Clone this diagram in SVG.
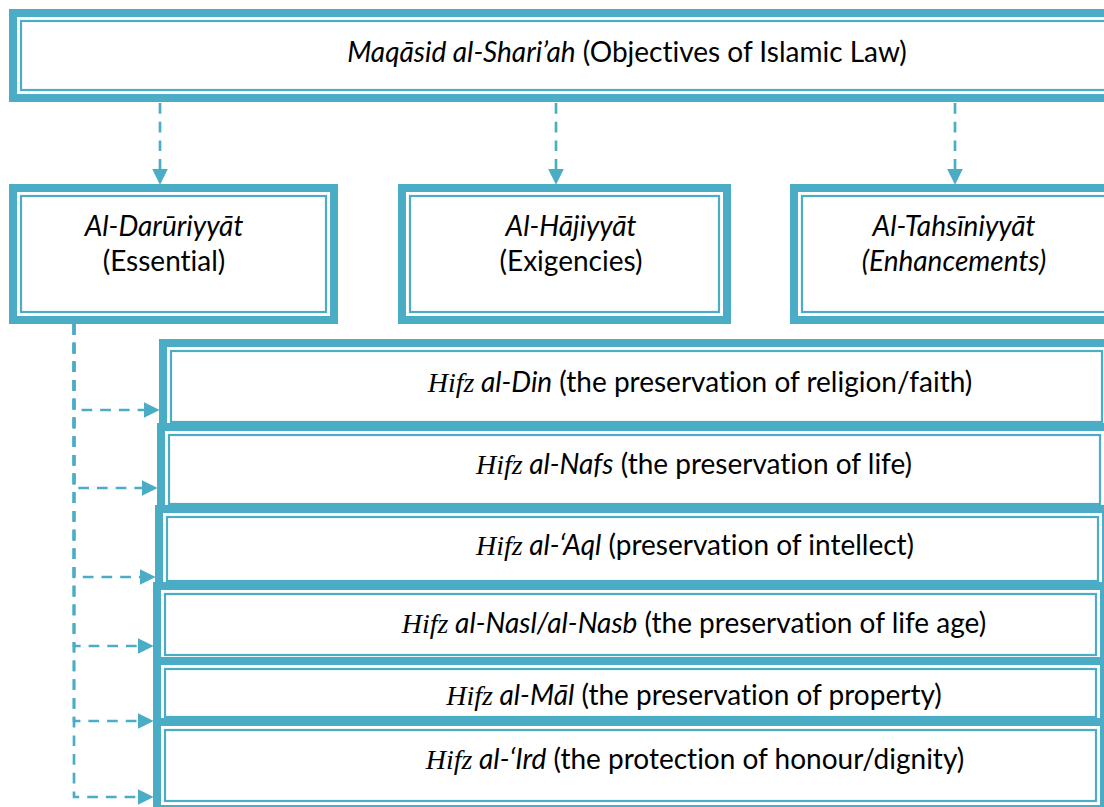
<svg xmlns="http://www.w3.org/2000/svg" width="1104" height="807" viewBox="0 0 1104 807">
  <defs>
    <style>
      .outer { fill: #4BACC6; }
      .gap { fill: #FFFFFF; }
      .thin { fill: #FFFFFF; stroke: #4BACC6; stroke-width: 2.2; }
      .conn { fill: none; stroke: #4BACC6; stroke-width: 2.67; stroke-dasharray: 10.7 8; }
      text { font-family: "Lato", "Liberation Sans", sans-serif; font-size: 28px; fill: #000000; font-variant-ligatures: none; font-feature-settings: "liga" 0, "dlig" 0; }
      .it { font-style: italic; }
      .hz { font-family: "Liberation Serif", "Times New Roman", serif; font-style: italic; font-size: 28px; }
    </style>
    <marker id="arrow" markerUnits="userSpaceOnUse" markerWidth="16" markerHeight="16" viewBox="0 0 15 15" refX="5" refY="7.5" orient="auto">
      <path d="M0,0 L15,7.5 L0,15 Z" fill="#4BACC6"/>
    </marker>
  </defs>
  <rect width="1104" height="807" fill="#FFFFFF"/>

  <g id="connectors">
    <path class="conn" d="M160,103 V174" marker-end="url(#arrow)"/>
    <path class="conn" d="M556,103 V174" marker-end="url(#arrow)"/>
    <path class="conn" d="M955,103 V174" marker-end="url(#arrow)"/>
    <path class="conn" d="M74,324 V410 H149" marker-end="url(#arrow)"/>
    <path class="conn" d="M74,324 V488 H147" marker-end="url(#arrow)"/>
    <path class="conn" d="M74,324 V577 H145" marker-end="url(#arrow)"/>
    <path class="conn" d="M74,324 V646 H143" marker-end="url(#arrow)"/>
    <path class="conn" d="M74,324 V721 H143" marker-end="url(#arrow)"/>
    <path class="conn" d="M74,324 V797 H143" marker-end="url(#arrow)"/>
  </g>

  <g id="maqasid">
    <rect class="outer" x="9" y="9" width="1130" height="93"/>
    <rect class="gap" x="17" y="17" width="1114" height="77"/>
    <rect class="thin" x="21" y="21" width="1106" height="69"/>
    <text x="627" y="62" text-anchor="middle"><tspan class="it">Maqāsid al-Shari’ah</tspan> (Objectives of Islamic Law)</text>
  </g>

  <g id="daruriyyat">
    <rect class="outer" x="9" y="184" width="329" height="140"/>
    <rect class="gap" x="17" y="192" width="313" height="124"/>
    <rect class="thin" x="21" y="196" width="305" height="116"/>
    <text x="164" y="236" text-anchor="middle" class="it">Al-Darūriyyāt</text>
    <text x="164" y="271" text-anchor="middle">(Essential)</text>
  </g>

  <g id="hajiyyat">
    <rect class="outer" x="398" y="184" width="333" height="140"/>
    <rect class="gap" x="406" y="192" width="317" height="124"/>
    <rect class="thin" x="410" y="196" width="309" height="116"/>
    <text x="571" y="236" text-anchor="middle" class="it">Al-Hājiyyāt</text>
    <text x="571" y="271" text-anchor="middle">(Exigencies)</text>
  </g>

  <g id="tahsiniyyat">
    <rect class="outer" x="790" y="184" width="340" height="140"/>
    <rect class="gap" x="798" y="192" width="324" height="124"/>
    <rect class="thin" x="802" y="196" width="316" height="116"/>
    <text x="954" y="236" text-anchor="middle" class="it">Al-Tahsīniyyāt</text>
    <text x="954" y="271" text-anchor="middle" class="it">(Enhancements)</text>
  </g>

  <g id="hifz-din">
    <rect class="outer" x="159" y="339" width="955" height="95"/>
    <rect class="gap" x="167" y="347" width="939" height="79"/>
    <rect class="thin" x="171" y="351" width="931" height="71"/>
    <text x="700" y="392" text-anchor="middle"><tspan class="hz">Hifz</tspan><tspan class="it"> al-Din</tspan> (the preservation of religion/faith)</text>
  </g>

  <g id="hifz-nafs">
    <rect class="outer" x="157" y="423" width="955" height="93"/>
    <rect class="gap" x="165" y="431" width="939" height="77"/>
    <rect class="thin" x="169" y="435" width="931" height="69"/>
    <text x="694" y="474" text-anchor="middle"><tspan class="hz">Hifz</tspan><tspan class="it"> al-Nafs</tspan> (the preservation of life)</text>
  </g>

  <g id="hifz-aql">
    <rect class="outer" x="155" y="505" width="955" height="88"/>
    <rect class="gap" x="163" y="513" width="939" height="72"/>
    <rect class="thin" x="167" y="517" width="931" height="64"/>
    <text x="695" y="555" text-anchor="middle"><tspan class="hz">Hifz</tspan><tspan class="it"> al-‘Aql</tspan> (preservation of intellect)</text>
  </g>

  <g id="hifz-nasl">
    <rect class="outer" x="153" y="582" width="955" height="85"/>
    <rect class="gap" x="161" y="590" width="939" height="69"/>
    <rect class="thin" x="165" y="594" width="931" height="61"/>
    <text x="694" y="633" text-anchor="middle"><tspan class="hz">Hifz</tspan><tspan class="it"> al-Nasl/al-Nasb</tspan> (the preservation of life age)</text>
  </g>

  <g id="hifz-mal">
    <rect class="outer" x="153" y="657" width="955" height="72"/>
    <rect class="gap" x="161" y="665" width="939" height="56"/>
    <rect class="thin" x="165" y="669" width="931" height="48"/>
    <text x="694" y="705" text-anchor="middle"><tspan class="hz">Hifz</tspan><tspan class="it"> al-Māl</tspan> (the preservation of property)</text>
  </g>

  <g id="hifz-ird">
    <rect class="outer" x="153" y="718" width="955" height="95"/>
    <rect class="gap" x="161" y="726" width="939" height="79"/>
    <rect class="thin" x="165" y="730" width="931" height="71"/>
    <text x="695" y="769" text-anchor="middle"><tspan class="hz">Hifz</tspan><tspan class="it"> al-‘Ird</tspan> (the protection of honour/dignity)</text>
  </g>
</svg>
